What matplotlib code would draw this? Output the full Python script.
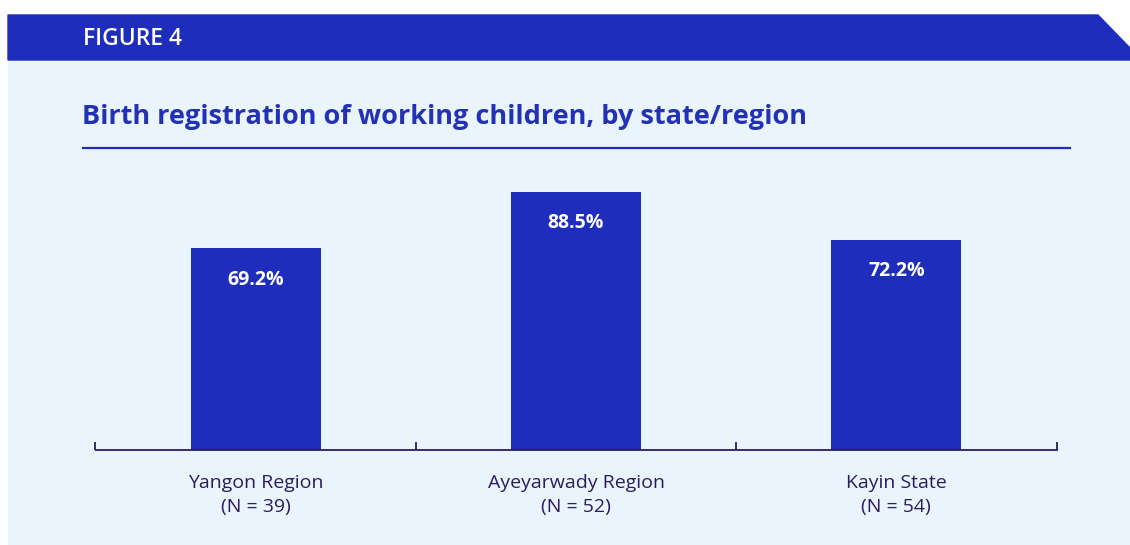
import matplotlib
matplotlib.use("Agg")
from matplotlib import pyplot as plt
import matplotlib.patches as mpatches

# data
regions = ["Yangon Region", "Ayeyarwady Region", "Kayin State"]
sample_sizes = [39, 52, 54]
registered_pct = [69.2, 88.5, 72.2]

BLUE = "#1f2dbd"
PANEL = "#eaf4fd"
TEXT = "#2b1d5c"
W, H = 1130, 545

plt.rcParams["font.family"] = ["Open Sans", "DejaVu Sans"]


def fx(x):
    return x / W


def fy(y):
    return 1 - y / H


fig = plt.figure(figsize=(W / 100, H / 100), dpi=100, facecolor="white")

# light panel and header band with cut corner
fig.patches.append(mpatches.Rectangle((fx(8), fy(545)), fx(W - 8), fy(60) - fy(545),
                                      transform=fig.transFigure, color=PANEL, zorder=-5))
header = [(8, 15), (1098, 15), (1130, 48), (1130, 60), (8, 60)]
fig.patches.append(mpatches.Polygon([(fx(x), fy(y)) for x, y in header], closed=True,
                                    transform=fig.transFigure, color=BLUE, zorder=-5))
fig.text(fx(83), fy(39), "FIGURE 4", color="white", fontsize=16.5, fontweight="semibold",
         va="center", ha="left")

fig.text(fx(82), fy(117), "Birth registration of working children, by state/region",
         color="#2231b5", fontsize=19.5, fontweight="bold", va="center", ha="left")
fig.add_artist(plt.Line2D([fx(83), fx(1070)], [fy(148), fy(148)], color=BLUE, lw=1.6,
                          transform=fig.transFigure))

ax = fig.add_axes([fx(95.5), fy(450), fx(1056.5) - fx(95.5), fy(158.5) - fy(450)])
ax.set_facecolor("none")
ax.set_zorder(3)

xs = range(len(regions))
bars = ax.bar(xs, registered_pct, width=0.406, color=BLUE, zorder=2)
for rect, v in zip(bars, registered_pct):
    ax.annotate(f"{v:.1f}%", (rect.get_x() + rect.get_width() / 2, v),
                xytext=(0, -22.5), textcoords="offset points", ha="center", va="center",
                color="white", fontsize=14, fontweight="bold")

ax.set_xlim(-0.5, 2.5)
ax.set_ylim(0, 100)
for s in ["top", "right", "left"]:
    ax.spines[s].set_visible(False)
ax.spines["bottom"].set_color(TEXT)
ax.spines["bottom"].set_linewidth(1.3)
ax.set_yticks([])
ax.set_xticks([-0.5, 0.5, 1.5, 2.5])
ax.set_xticklabels([])
ax.tick_params(axis="x", direction="in", length=5.5, width=1.3, color=TEXT)
ax.set_xticks(list(xs), minor=True)
ax.set_xticklabels([f"{r}\n(N = {n})" for r, n in zip(regions, sample_sizes)], minor=True,
                   color=TEXT, fontsize=14, linespacing=1.45)
ax.tick_params(axis="x", which="minor", length=0, pad=17)

fig.savefig("out.png", dpi=100, facecolor="white")
